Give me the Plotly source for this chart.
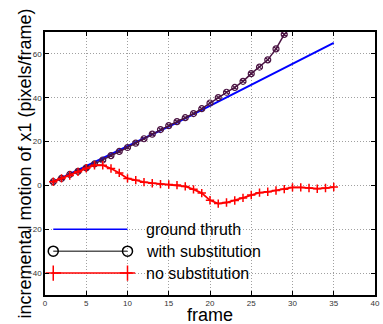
import plotly.graph_objects as go

# ---- data ----
frames_gt = list(range(1, 36))
ground_truth = [1.6, 3.4, 5.1, 6.9, 8.6, 10.4, 12.2, 14.0, 15.8, 17.6,
                19.4, 21.2, 23.1, 24.9, 26.8, 28.7, 30.6, 32.5, 34.4, 36.3,
                38.2, 40.1, 42.0, 43.9, 45.8, 47.7, 49.6, 51.5, 53.4, 55.4,
                57.3, 59.2, 61.1, 63.0, 65.0]

frames_sub = list(range(1, 30))
with_substitution = [1.7, 3.2, 5.0, 6.4, 8.0, 9.8, 11.6, 13.6, 15.5, 17.3,
                     19.3, 21.3, 23.4, 25.5, 27.3, 29.1, 30.9, 32.8, 35.0, 37.6,
                     40.1, 42.5, 44.7, 47.5, 51.0, 54.0, 57.3, 62.3, 68.9]

frames_nosub = list(range(1, 36))
no_substitution = [1.7, 3.2, 4.5, 6.2, 7.8, 9.2, 9.2, 7.7, 5.7, 3.2,
                   2.4, 1.5, 1.0, 0.6, 0.45, 0.15, -0.45, -1.8, -3.5, -6.8,
                   -8.3, -7.8, -6.9, -5.7, -4.4, -3.3, -2.9, -2.3, -1.7, -0.9,
                   -0.9, -1.2, -1.5, -1.2, -0.75]

legend_labels = ["ground thruth", "with substitution", "no substitution"]
x_ticks = [0, 5, 10, 15, 20, 25, 30, 35, 40]
y_ticks = [-40, -20, 0, 20, 40, 60]

# ---- styling / layout helpers ----
BLUE = "#0000ff"
PURPLE = "#4b1443"
RED = "#ff0000"
FONT = "Liberation Sans, Arial, sans-serif"

legend_y = [-20, -30, -40]
legend_x = [1, 10]
legend_text_x = 12.0

fig = go.Figure()

fig.add_trace(go.Scatter(x=frames_gt, y=ground_truth, mode="lines",
                         line=dict(color=BLUE, width=2), showlegend=False))
fig.add_trace(go.Scatter(x=frames_sub, y=with_substitution, mode="lines+markers",
                         line=dict(color=PURPLE, width=1.5),
                         marker=dict(symbol="circle-x-open", size=6,
                                     color=PURPLE, line=dict(width=1.2)),
                         showlegend=False))
fig.add_trace(go.Scatter(x=frames_nosub, y=no_substitution, mode="lines+markers",
                         line=dict(color=RED, width=1.8),
                         marker=dict(symbol="cross-thin-open", size=6,
                                     color=RED, line=dict(width=1.5, color=RED)),
                         showlegend=False))

# manual MATLAB-style legend (inside axes)
fig.add_trace(go.Scatter(x=legend_x, y=[legend_y[0]] * 2, mode="lines",
                         line=dict(color=BLUE, width=1.5), showlegend=False))
fig.add_trace(go.Scatter(x=legend_x, y=[legend_y[1]] * 2, mode="lines+markers",
                         line=dict(color="black", width=1),
                         marker=dict(symbol="circle-open", size=10, color="black",
                                     line=dict(width=1.5)),
                         showlegend=False))
fig.add_trace(go.Scatter(x=[0.8, 10.6], y=[legend_y[2]] * 2, mode="lines",
                         line=dict(color=RED, width=1.5), showlegend=False))
fig.add_trace(go.Scatter(x=legend_x, y=[legend_y[2]] * 2, mode="markers",
                         marker=dict(symbol="cross-thin-open", size=11, color=RED,
                                     line=dict(width=1.5, color=RED)),
                         showlegend=False))

annotations = []
for lbl, yy in zip(legend_labels, legend_y):
    annotations.append(dict(x=legend_text_x, y=yy, xref="x", yref="y", text=lbl,
                            showarrow=False, xanchor="left", yanchor="middle",
                            font=dict(family=FONT, size=16, color="black")))
annotations.append(dict(x=0.5, y=0, xref="paper", yref="paper", text="frame",
                        showarrow=False, xanchor="center", yanchor="middle",
                        height=16, borderpad=0,
                        yshift=-20, font=dict(family=FONT, size=18, color="black")))
annotations.append(dict(x=0, y=0.5, xref="paper", yref="paper",
                        text="incremental motion of x1 (pixels/frame)",
                        textangle=-90, showarrow=False, xanchor="center",
                        yanchor="middle", xshift=-21,
                        font=dict(family=FONT, size=18, color="black")))

axis_common = dict(showline=True, linecolor="black", linewidth=1.5, mirror="ticks",
                   ticks="inside", ticklen=4, tickcolor="black", tickwidth=1,
                   showgrid=True, gridcolor="#a0a0a0", griddash="1px,2px", gridwidth=1,
                   zeroline=False, tickfont=dict(family=FONT, size=8, color="#333333"))

fig.update_layout(
    width=383, height=324,
    margin=dict(l=45, r=3, t=32, b=29),
    paper_bgcolor="white", plot_bgcolor="white",
    xaxis=dict(range=[0, 40], tickvals=x_ticks, **axis_common),
    yaxis=dict(range=[-50, 70], tickvals=y_ticks, **axis_common),
    annotations=annotations,
    showlegend=False,
)

fig.write_html("out.html", config={"displayModeBar": False},
               post_script="document.body.style.margin='0';document.body.style.overflow='hidden';")
